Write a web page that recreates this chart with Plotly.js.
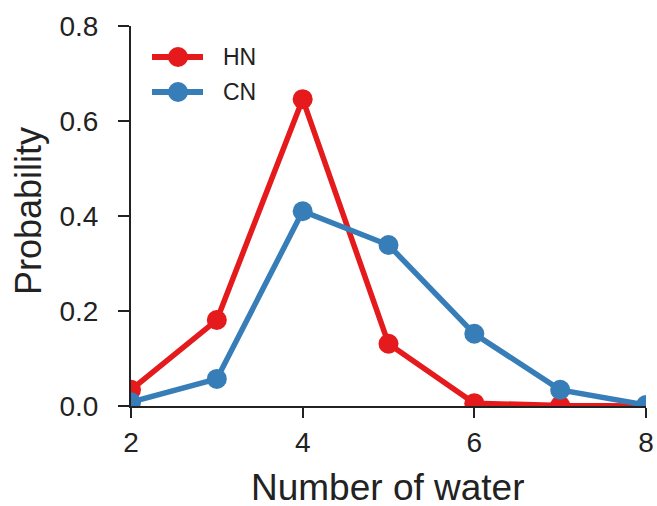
<!DOCTYPE html>
<html><head><meta charset="utf-8">
<script src="https://cdn.plot.ly/plotly-3.0.1.min.js"></script>
<style>body{margin:0;}#c{width:657px;height:506px;}</style>
</head><body><div id="c"></div>
<script>
const xVals = [2, 3, 4, 5, 6, 7, 8];
const hnVals = [0.034, 0.181, 0.646, 0.131, 0.006, 0.001, 0.0];
const cnVals = [0.008, 0.057, 0.410, 0.339, 0.152, 0.034, 0.002];
const seriesNames = ['HN', 'CN'];
const seriesColors = ['#e41a1c', '#377eb8'];
const xTicks = [2, 4, 6, 8];
const yTicks = [0.0, 0.2, 0.4, 0.6, 0.8];
const xTitle = 'Number of water';
const yTitle = 'Probability';

const M = {l: 131, r: 11, t: 26, b: 100};
const W = 657, H = 506;
const pw = W - M.l - M.r, ph = H - M.t - M.b;
const px = x => (x - M.l) / pw;
const py = y => (H - M.b - y) / ph;

const traces = [hnVals, cnVals].map((vals, i) => ({
  x: xVals, y: vals, name: seriesNames[i], mode: 'lines+markers', type: 'scatter',
  line: {color: seriesColors[i], width: 5.5}, marker: {color: seriesColors[i], size: 20},
  showlegend: false
}));

const shapes = [], annotations = [];
const legendY = [57, 92];
seriesNames.forEach((n, i) => {
  const yy = py(legendY[i]);
  shapes.push({type: 'line', xref: 'paper', yref: 'paper', x0: px(152), x1: px(203), y0: yy, y1: yy,
    line: {color: seriesColors[i], width: 6}});
  shapes.push({type: 'circle', xref: 'paper', yref: 'paper', xsizemode: 'pixel', ysizemode: 'pixel',
    xanchor: px(178), yanchor: yy, x0: -10, x1: 10, y0: -10, y1: 10,
    fillcolor: seriesColors[i], line: {width: 0}});
  annotations.push({xref: 'paper', yref: 'paper', x: px(221), y: yy, xanchor: 'left', yanchor: 'middle',
    text: n, showarrow: false, font: {size: 23, color: '#222'}});
});
annotations.push({xref: 'paper', yref: 'paper', x: px(388), y: py(487), xanchor: 'center', yanchor: 'middle',
  height: 34, valign: 'middle',
  text: xTitle, showarrow: false, font: {size: 37, color: '#222'}});
annotations.push({xref: 'paper', yref: 'paper', x: px(29), y: py(211), xanchor: 'center', yanchor: 'middle',
  text: yTitle, textangle: -90, showarrow: false, font: {size: 36, color: '#222'}});

const layout = {
  width: W, height: H,
  margin: M,
  paper_bgcolor: 'white', plot_bgcolor: 'white',
  font: {family: 'Liberation Sans, Arial, sans-serif', color: '#222'},
  xaxis: {range: [2, 8], tickvals: xTicks, ticktext: xTicks.map(String),
    showgrid: false, zeroline: false, showline: true, linecolor: '#222', linewidth: 2,
    ticks: 'outside', ticklen: 10, tickwidth: 2, tickcolor: '#222',
    tickfont: {size: 28}},
  yaxis: {range: [0, 0.8], tickvals: yTicks, ticktext: yTicks.map(v => v.toFixed(1)),
    showgrid: false, zeroline: false, showline: true, linecolor: '#222', linewidth: 2,
    ticks: 'outside', ticklen: 11, tickwidth: 2, tickcolor: '#222', ticklabelstandoff: 14,
    tickfont: {size: 28}},
  showlegend: false,
  shapes: shapes, annotations: annotations
};
Plotly.newPlot('c', traces, layout, {displayModeBar: false});
</script></body></html>
